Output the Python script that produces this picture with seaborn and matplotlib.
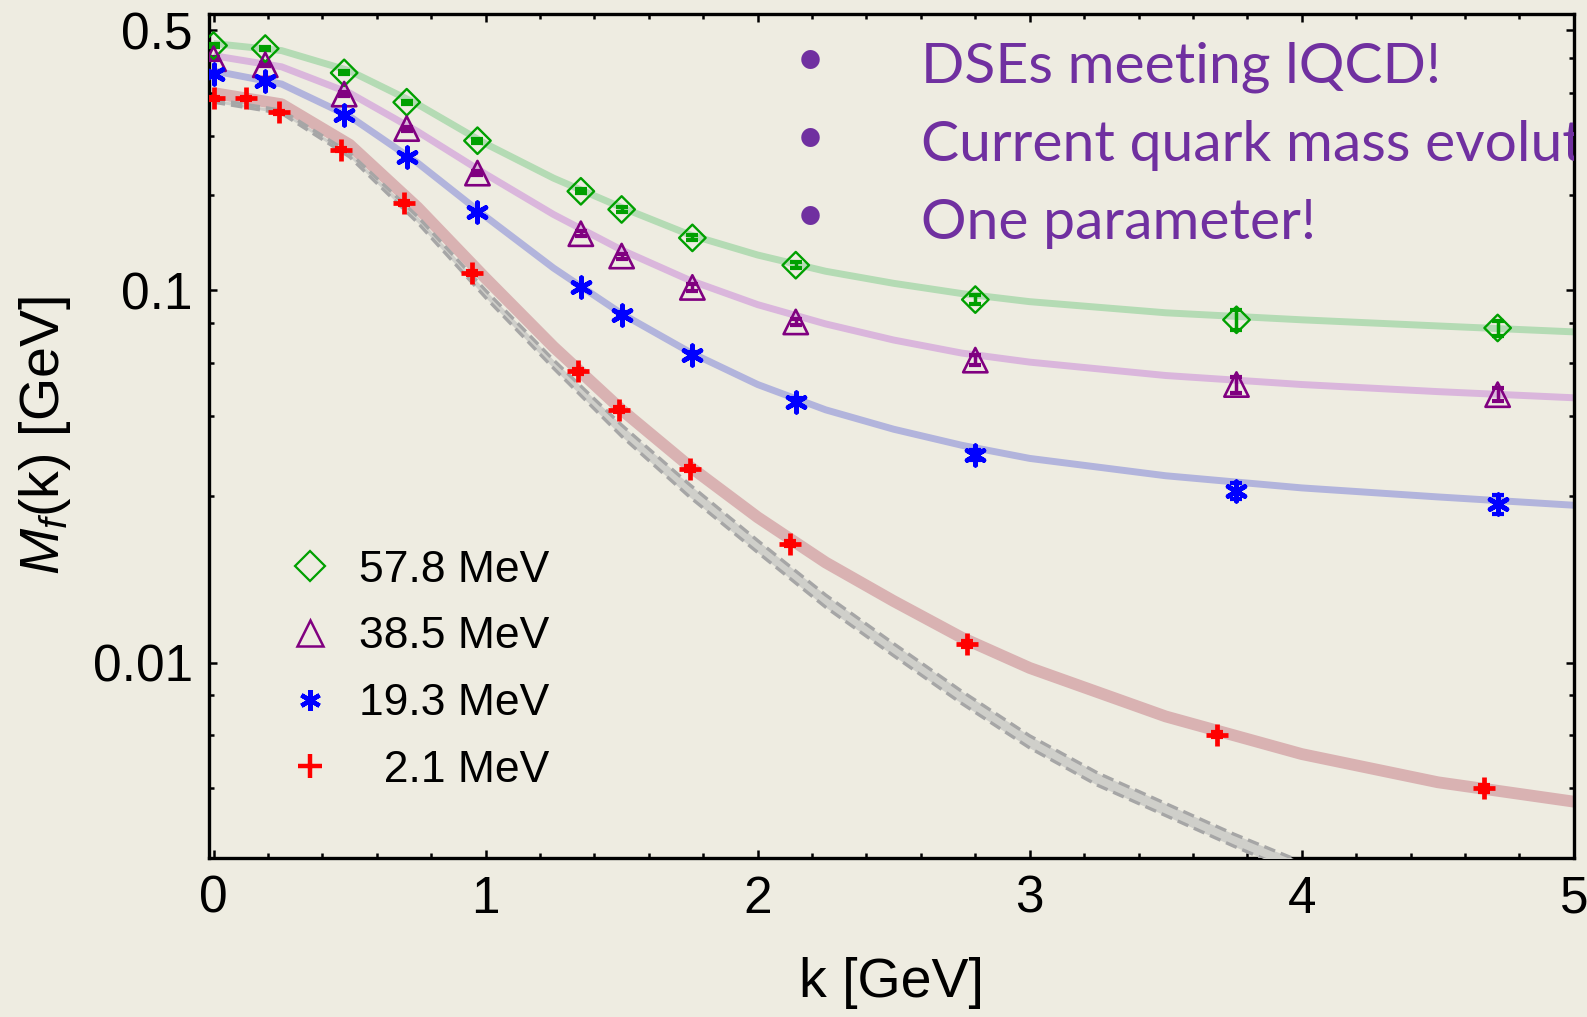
import numpy as np
import pandas as pd
import matplotlib
matplotlib.use("Agg")
import matplotlib.pyplot as plt
import seaborn as sns
from matplotlib.lines import Line2D
from matplotlib.ticker import FixedLocator, FixedFormatter, NullFormatter

# ---------------- data ----------------
k_curve = [0.0, 0.25, 0.5, 0.75, 1.0, 1.25, 1.5, 1.75, 2.0, 2.25, 2.5, 2.75, 3.0, 3.5, 4.0, 4.5, 5.0]
m_curve_578 = [0.4603, 0.4406, 0.3888, 0.3162, 0.2477, 0.2002, 0.1670, 0.1411, 0.1245, 0.1126,
               0.1045, 0.0981, 0.0933, 0.0871, 0.0834, 0.0803, 0.0774]
m_curve_385 = [0.4270, 0.3986, 0.3389, 0.2671, 0.2053, 0.1599, 0.1284, 0.1065, 0.0916, 0.0813,
               0.0736, 0.0679, 0.0642, 0.0591, 0.0559, 0.0535, 0.0515]
m_curve_193 = [0.3888, 0.3583, 0.2934, 0.2200, 0.1579, 0.1148, 0.0866, 0.0683, 0.0559, 0.0478,
               0.0424, 0.0384, 0.0354, 0.0318, 0.0295, 0.0279, 0.0265]
m_curve_21 = [0.3389, 0.3162, 0.2462, 0.1670, 0.1078, 0.0705, 0.0478, 0.0337, 0.0246, 0.0186,
              0.01465, 0.01169, 0.00969, 0.00718, 0.00569, 0.00478, 0.00424]

k_chiral = [0.0, 0.25, 0.5, 0.75, 1.0, 1.25, 1.5, 1.75, 2.0, 2.25, 2.5, 2.75, 3.0, 3.25, 3.5, 3.75, 4.0]
m_chiral_hi = [0.3263, 0.3046, 0.2342, 0.1579, 0.1000, 0.0650, 0.0435, 0.0301, 0.0213, 0.01521,
               0.01126, 0.00839, 0.00637, 0.00506, 0.00419, 0.00347, 0.00292]
m_chiral_lo = [0.3202, 0.2989, 0.2284, 0.1521, 0.0957, 0.0618, 0.0406, 0.0279, 0.0198, 0.01411,
               0.01045, 0.00778, 0.00591, 0.00469, 0.00389, 0.00322, 0.00270]

k_lat = [0.0, 0.19, 0.48, 0.71, 0.97, 1.35, 1.50, 1.76, 2.14, 2.80, 3.76, 4.72]
m_lat_578 = [0.4546, 0.4461, 0.3839, 0.3202, 0.2524, 0.1846, 0.1650, 0.1384, 0.1169, 0.0945, 0.0834, 0.0793]
e_lat_578 = [0.0045, 0.0045, 0.0038, 0.0032, 0.0030, 0.0022, 0.0025, 0.0021, 0.0023, 0.0028, 0.0050, 0.0037]
m_lat_385 = [0.4190, 0.4036, 0.3367, 0.2721, 0.2066, 0.1420, 0.1237, 0.1019, 0.0823, 0.0650, 0.0559, 0.0525]
e_lat_385 = [0.0042, 0.0040, 0.0034, 0.0033, 0.0025, 0.0021, 0.0019, 0.0020, 0.0016, 0.0020, 0.0028, 0.0021]
m_lat_193 = [0.3815, 0.3651, 0.2953, 0.2284, 0.1629, 0.1019, 0.0861, 0.0670, 0.0503, 0.0361, 0.0290, 0.0267]
e_lat_193 = [0.0038, 0.0037, 0.0030, 0.0027, 0.0020, 0.0015, 0.0013, 0.0013, 0.0010, 0.0011, 0.0015, 0.0016]
k_lat_21 = [0.0, 0.12, 0.24, 0.47, 0.70, 0.95, 1.34, 1.49, 1.75, 2.12, 2.77, 3.69, 4.67]
m_lat_21 = [0.3284, 0.3284, 0.3008, 0.2386, 0.1713, 0.1112, 0.0606, 0.0478, 0.0332, 0.0209, 0.01126, 0.00642, 0.00460]
e_lat_21 = [0.0033, 0.0033, 0.0030, 0.0024, 0.0021, 0.0013, 0.0009, 0.0007, 0.0005, 0.0003, 0.0002, 0.0001, 0.0001]

legend_labels = ["57.8 MeV", "38.5 MeV", "19.3 MeV", "  2.1 MeV"]
bullet_lines = ["DSEs meeting lQCD!", "Current quark mass evolution", "One parameter!"]

y_major = [0.01, 0.1, 0.5]
y_major_labels = ["0.01", "0.1", "0.5"]
y_minor = [0.0046, 0.0064, 0.0082, 0.028, 0.046, 0.064, 0.082, 0.18, 0.26, 0.34, 0.42]
x_major = [0, 1, 2, 3, 4, 5]

# ---------------- style ----------------
sns.set_theme(style="ticks")
BG = "#eeece1"
plt.rcParams["font.family"] = ["Liberation Sans", "DejaVu Sans"]
plt.rcParams["mathtext.fontset"] = "custom"
plt.rcParams["mathtext.rm"] = "Liberation Sans"
plt.rcParams["mathtext.it"] = "Liberation Sans:italic"
for key in ["text.color", "axes.labelcolor", "xtick.color", "ytick.color",
            "xtick.labelcolor", "ytick.labelcolor", "axes.edgecolor"]:
    plt.rcParams[key] = "black"

fig = plt.figure(figsize=(15.87, 10.17), dpi=100, facecolor=BG)
ax = fig.add_axes([0.132, 0.1562, 0.8597, 0.8299])
ax.set_facecolor(BG)
ax.set_yscale("log")

# bands (theory curves)
band_specs = [
    (m_curve_578, "#b4dbb4", 5.0),
    (m_curve_385, "#dab6dc", 5.0),
    (m_curve_193, "#b2b4dc", 5.0),
    (m_curve_21, "#d9b2b2", 8.5),
]
for vals, col, lw in band_specs:
    df = pd.DataFrame({"k": k_curve, "M": vals})
    sns.lineplot(data=df, x="k", y="M", ax=ax, color=col, linewidth=lw,
                 solid_capstyle="butt", solid_joinstyle="round", zorder=2)

# chiral-limit band
ax.fill_between(k_chiral, m_chiral_lo, m_chiral_hi, color="#cfcfca", lw=0, zorder=3)
for arr in (m_chiral_hi, m_chiral_lo):
    ax.plot(k_chiral, arr, color="#a6a6a6", lw=2.4, ls=(0, (3.5, 1.8)), zorder=3.1)

# lattice points
pt_specs = [
    (k_lat, m_lat_578, e_lat_578, "#00a000", "D", 13.5, 1.7, "none"),
    (k_lat, m_lat_385, e_lat_385, "#800080", "^", 17.5, 1.9, "none"),
    (k_lat, m_lat_193, e_lat_193, "#0000ff", (6, 2, 0), 14, 3.4, "#0000ff"),
    (k_lat_21, m_lat_21, e_lat_21, "#ff0000", "+", 16, 3.4, "#ff0000"),
]
for kk, mm, ee, col, mk, ms, mew, mfc in pt_specs:
    ax.errorbar(kk, mm, yerr=ee, fmt="none", ecolor=col, elinewidth=2.5,
                capsize=4.5, capthick=3, zorder=5)
    sns.scatterplot(x=kk, y=mm, ax=ax, marker=mk, s=ms ** 2, linewidth=mew,
                    edgecolor=col, facecolor=mfc, color=col, zorder=6, legend=False)

# axes limits and ticks
ax.set_xlim(-0.015, 5.0)
ax.set_ylim(0.00299, 0.552)
ax.xaxis.set_major_locator(FixedLocator(x_major))
ax.xaxis.set_minor_locator(FixedLocator(np.arange(0, 5.01, 0.2)))
ax.yaxis.set_major_locator(FixedLocator(y_major))
ax.yaxis.set_major_formatter(FixedFormatter(y_major_labels))
ax.yaxis.set_minor_locator(FixedLocator(y_minor))
ax.yaxis.set_minor_formatter(NullFormatter())
ax.tick_params(which="both", direction="in", top=True, right=True, color="black",
               labelcolor="black", width=1.8, labelsize=37, pad=12)
ax.tick_params(which="major", length=6)
ax.tick_params(which="minor", length=3.5)
for s in ax.spines.values():
    s.set_linewidth(2.4)
    s.set_color("black")

ax.set_xlabel("k [GeV]", fontsize=40, labelpad=24, color="black")
ax.set_ylabel(r"$M_f$(k) [GeV]", fontsize=40, labelpad=14, color="black")

# legend
handles = [
    Line2D([], [], ls="none", marker="D", ms=15, mfc="none", mec="#00a000", mew=1.6),
    Line2D([], [], ls="none", marker="^", ms=19, mfc="none", mec="#800080", mew=1.8),
    Line2D([], [], ls="none", marker=(6, 2, 0), ms=15, mec="#0000ff", mew=3.2),
    Line2D([], [], ls="none", marker="+", ms=17, mec="#ff0000", mew=3.2),
]
ax.legend(handles, legend_labels, loc="upper left", bbox_to_anchor=(0.041, 0.392),
          frameon=False, fontsize=32, handlelength=1.0, handletextpad=0.6,
          labelspacing=0.58, borderpad=0.0, labelcolor="black")

# purple bullet text
purple = "#7030a0"
for i, line in enumerate(bullet_lines):
    yb = 0.9185 - i * 0.0924
    ax.text(0.44, yb + 0.0255, "\u2022", transform=ax.transAxes, color=purple,
            fontsize=36, family=["Lato", "DejaVu Sans"], va="center", ha="center",
            clip_on=True, zorder=7)
    ax.text(0.5215, yb, line, transform=ax.transAxes, color=purple, fontsize=41,
            family=["Lato", "DejaVu Sans"], va="baseline", ha="left",
            clip_on=True, zorder=7)

fig.savefig("out.png", dpi=100, facecolor=BG)
